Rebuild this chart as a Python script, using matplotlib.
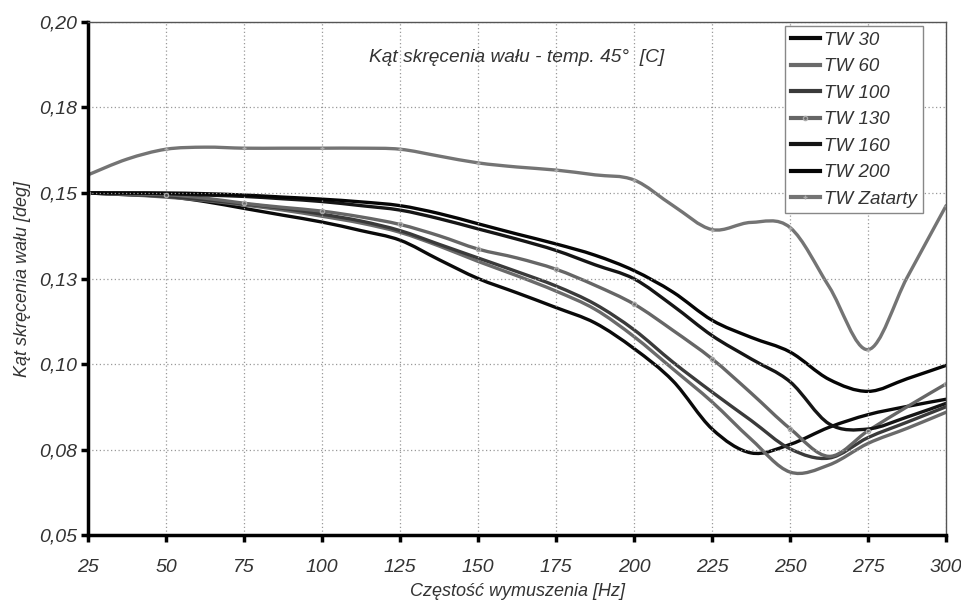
import matplotlib
matplotlib.use("Agg")
import matplotlib.pyplot as plt
from matplotlib.path import Path
from matplotlib.patches import PathPatch
from matplotlib.lines import Line2D

# frequency [Hz], read every 12.5 Hz off the picture
freq = [25, 37.5, 50, 62.5, 75, 87.5, 100, 112.5, 125, 137.5, 150, 162.5,
        175, 187.5, 200, 212.5, 225, 237.5, 250, 262.5, 275, 287.5, 300]

tw30 = [0.150, 0.1495, 0.149, 0.1475, 0.1455, 0.1435, 0.1415, 0.139, 0.1362,
        0.1305, 0.125, 0.1208, 0.1165, 0.112, 0.1045, 0.095, 0.081, 0.0740,
        0.0765, 0.0815, 0.0852, 0.0876, 0.0897]
tw60 = [0.150, 0.1495, 0.1488, 0.1478, 0.1465, 0.145, 0.1432, 0.1412, 0.1385,
        0.1345, 0.1300, 0.1258, 0.1213, 0.1160, 0.1080, 0.0985, 0.0889, 0.0780,
        0.0684, 0.0705, 0.0768, 0.0812, 0.0859]
tw100 = [0.150, 0.1496, 0.149, 0.148, 0.1468, 0.1455, 0.1438, 0.1418, 0.139,
         0.135, 0.131, 0.127, 0.1228, 0.1175, 0.1100, 0.1005, 0.0918, 0.0835,
         0.0752, 0.0725, 0.0785, 0.0830, 0.0875]
tw130 = [0.150, 0.1497, 0.1495, 0.1485, 0.147, 0.1458, 0.1447, 0.143, 0.1408,
         0.1375, 0.1336, 0.131, 0.1277, 0.123, 0.1175, 0.1098, 0.1015, 0.0915,
         0.0811, 0.0730, 0.0805, 0.0875, 0.0942]
tw160 = [0.150, 0.150, 0.1498, 0.1494, 0.149, 0.1483, 0.1475, 0.1463, 0.1450,
         0.1425, 0.1395, 0.1365, 0.1332, 0.129, 0.1249, 0.117, 0.1083, 0.1015,
         0.0948, 0.0825, 0.0810, 0.0845, 0.0885]
tw200 = [0.150, 0.150, 0.150, 0.1498, 0.1494, 0.1488, 0.1482, 0.1474, 0.1463,
         0.1440, 0.141, 0.138, 0.1351, 0.1318, 0.1273, 0.121, 0.1128, 0.1078,
         0.1035, 0.0955, 0.0920, 0.0957, 0.0996]
tw_zatarty = [0.1553, 0.1599, 0.1628, 0.1634, 0.1631, 0.1631, 0.1631, 0.1631,
              0.1628, 0.1608, 0.1588, 0.1576, 0.1567, 0.1553, 0.1538, 0.1463,
              0.1393, 0.1414, 0.1399, 0.1226, 0.1042, 0.1253, 0.1463]

x_ticks = [25, 50, 75, 100, 125, 150, 175, 200, 225, 250, 275, 300]
y_ticks = [0.05, 0.075, 0.10, 0.125, 0.15, 0.175, 0.20]
y_labels = ['0,05', '0,08', '0,10', '0,13', '0,15', '0,18', '0,20']

plt.rcParams['font.family'] = ['Liberation Sans', 'DejaVu Sans']
txt = '#333333'


def smooth_path(xs, ys):
    # Excel-like smoothed line: Catmull-Rom segments as cubic Bezier curves
    n = len(xs)
    verts = [(xs[0], ys[0])]
    codes = [Path.MOVETO]
    for i in range(n - 1):
        i0 = max(i - 1, 0)
        i3 = min(i + 2, n - 1)
        c1 = (xs[i] + (xs[i + 1] - xs[i0]) / 6, ys[i] + (ys[i + 1] - ys[i0]) / 6)
        c2 = (xs[i + 1] - (xs[i3] - xs[i]) / 6, ys[i + 1] - (ys[i3] - ys[i]) / 6)
        verts += [c1, c2, (xs[i + 1], ys[i + 1])]
        codes += [Path.CURVE4] * 3
    return Path(verts, codes)


fig = plt.figure(figsize=(9.62, 6.04), dpi=100)
ax = fig.add_axes([0.0915, 0.1142, 0.892, 0.8494])

lw = 2.4
series = [
    ('TW 30', tw30, '#0a0a0a', None),
    ('TW 60', tw60, '#6a6a6a', None),
    ('TW 100', tw100, '#3a3a3a', None),
    ('TW 130', tw130, '#666666', 'o'),
    ('TW 160', tw160, '#151515', None),
    ('TW 200', tw200, '#050505', None),
    ('TW Zatarty', tw_zatarty, '#747474', '+'),
]

handles = []
for name, ys, col, mk in series:
    ax.add_patch(PathPatch(smooth_path(freq, ys), fill=False, edgecolor=col,
                           lw=lw, capstyle='round', joinstyle='round'))
    if mk:
        ax.plot(freq, ys, ls='none', marker=mk, markersize=3, mfc='none',
                mec='#aaaaaa', markevery=2)
    handles.append(Line2D([], [], color=col, lw=lw + 0.6, marker=mk,
                          markersize=3, mfc='none', mec='#aaaaaa', label=name))

ax.set_xlim(25, 300)
ax.set_ylim(0.05, 0.20)
ax.set_xticks(x_ticks)
ax.set_yticks(y_ticks)
ax.set_yticklabels(y_labels)
ax.grid(True, linestyle=(0, (1, 2)), color='#999999', linewidth=0.9)

for side in ['left', 'bottom']:
    ax.spines[side].set_linewidth(2.5)
    ax.spines[side].set_color('black')
for side in ['top', 'right']:
    ax.spines[side].set_linewidth(1.0)
    ax.spines[side].set_color('#555555')

ax.tick_params(direction='out', length=5, width=2.5, colors='black',
               labelcolor=txt, labelsize=14)
ax.tick_params(axis='x', pad=12)
ax.tick_params(axis='y', pad=3)
for lab in ax.get_xticklabels() + ax.get_yticklabels():
    lab.set_fontstyle('italic')

ax.set_xlabel('Częstość wymuszenia [Hz]', fontsize=13, style='italic',
              color=txt, labelpad=5)
ax.set_ylabel('Kąt skręcenia wału [deg]', fontsize=13, style='italic',
              color=txt, labelpad=6)

ax.text(0.5, 0.93, 'Kąt skręcenia wału - temp. 45°  [C]', transform=ax.transAxes,
        ha='center', va='center', fontsize=13.8, style='italic', color=txt)

leg = ax.legend(handles=handles, loc='upper right', bbox_to_anchor=(0.973, 0.992),
                fancybox=False, framealpha=1, edgecolor='#888888', fontsize=13.5,
                handlelength=1.55, labelspacing=0.5, borderpad=0.3,
                handletextpad=0.25, borderaxespad=0.0)
leg.get_frame().set_linewidth(1.0)
for t in leg.get_texts():
    t.set_fontstyle('italic')
    t.set_color(txt)

fig.savefig('out.png', dpi=100)
